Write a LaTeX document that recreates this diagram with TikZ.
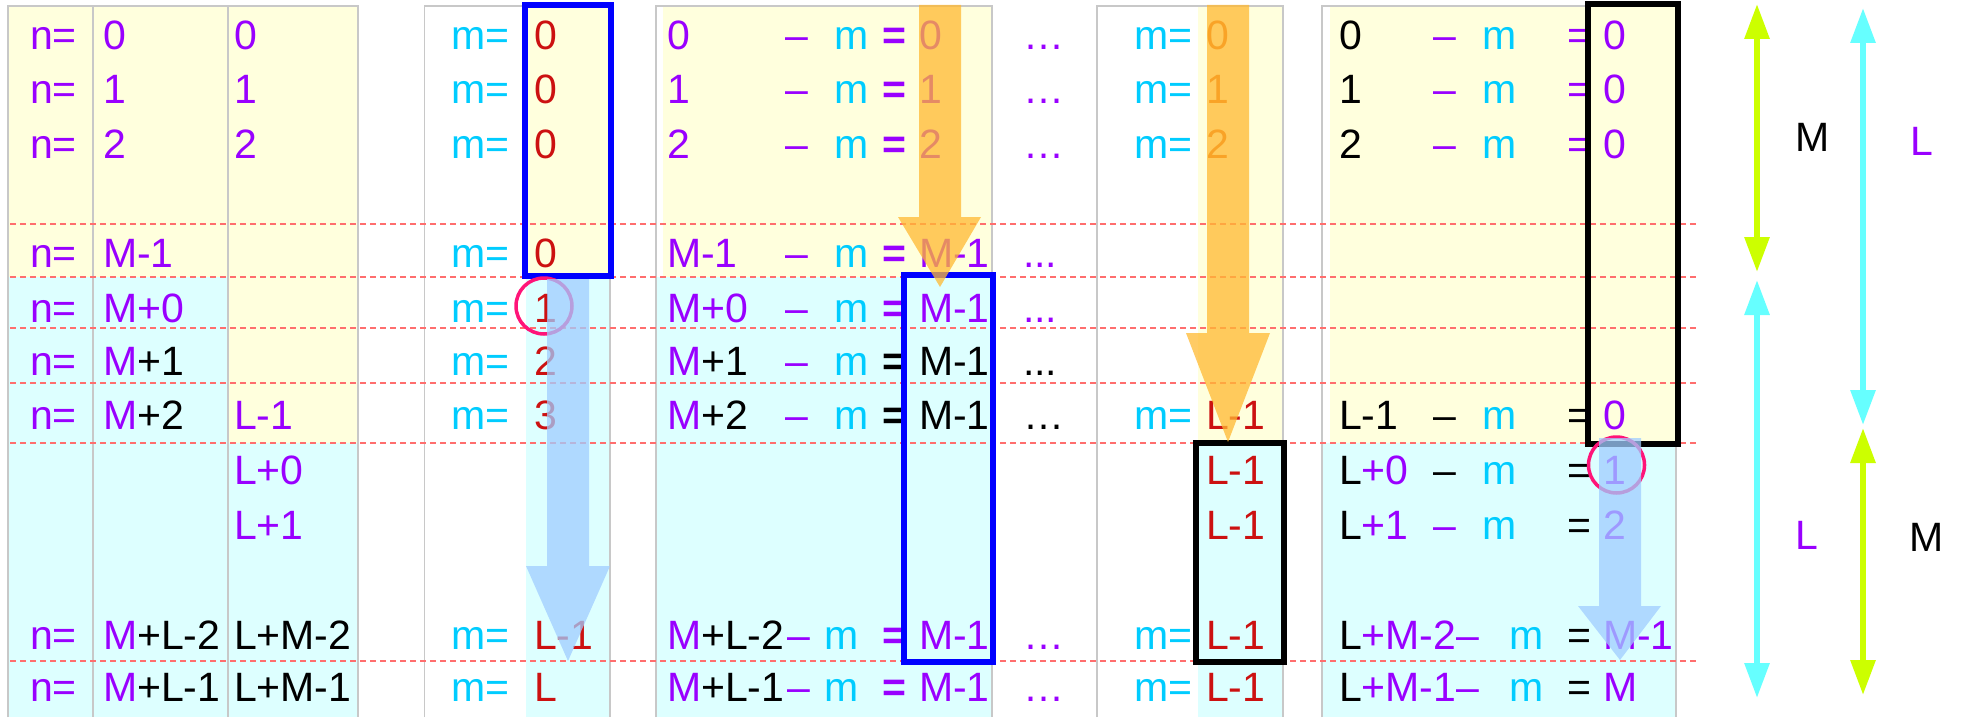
\documentclass[tikz,border=0pt]{standalone}
\usepackage{fontspec}
\setmainfont{Liberation Sans}
\usetikzlibrary{arrows.meta}
\definecolor{pur}{RGB}{153,0,255}
\definecolor{cyn}{RGB}{0,204,255}
\definecolor{dred}{RGB}{204,17,17}
\definecolor{orn}{RGB}{232,100,10}
\definecolor{ylw}{RGB}{255,255,221}
\definecolor{cya}{RGB}{221,255,255}
\definecolor{gridc}{RGB}{200,200,200}
\definecolor{dsh}{RGB}{255,110,110}
\definecolor{pnk}{RGB}{255,20,120}
\definecolor{barrow}{RGB}{160,205,255}
\definecolor{oarrow}{RGB}{255,185,50}
\definecolor{ygn}{RGB}{204,255,0}
\definecolor{lcy}{RGB}{102,255,255}
\newcommand\cPu[1]{\textcolor{pur}{#1}}
\newcommand\cCy[1]{\textcolor{cyn}{#1}}
\newcommand\cRd[1]{\textcolor{dred}{#1}}
\newcommand\cOr[1]{\textcolor{orn}{#1}}
\newcounter{tn}
\newcommand\puttext[3]{\stepcounter{tn}\node[txt] (t\arabic{tn}) at (#1,#2) {#3};}
\begin{document}
\begin{tikzpicture}[x=1pt,y=-1pt,
  txt/.style={anchor=base west,inner sep=0pt,outer sep=0pt,font=\fontsize{41}{49}\selectfont},
  gridln/.style={draw=gridc,line width=1.5pt},
  dashln/.style={draw=dsh,line width=1.5pt,dash pattern=on 6pt off 4pt},
  bluebox/.style={draw=blue,line width=5.5pt},
  blackbox/.style={draw=black,line width=5.5pt},
  ring/.style={draw=pnk,line width=3.5pt},
  barr/.style={fill=barrow,opacity=0.75},
  oarr/.style={fill=oarrow,opacity=0.75},
  dimarr/.style={line width=6pt,{Triangle[length=35pt,width=24pt]}-{Triangle[length=35pt,width=24pt]}}]
\useasboundingbox (0,0) rectangle (1961,717);
% backgrounds
\fill[ylw] (8,6) rectangle (228,277);
\fill[cya] (8,277) rectangle (228,717);
\fill[ylw] (228,6) rectangle (358,443);
\fill[cya] (228,443) rectangle (358,717);
\fill[ylw] (525,6) rectangle (611,276);
\fill[cya] (526,276) rectangle (610,717);
\fill[ylw] (663,6) rectangle (992,277);
\fill[cya] (657,277) rectangle (992,717);
\fill[ylw] (1198,6) rectangle (1283,443);
\fill[cya] (1198,443) rectangle (1283,717);
\fill[ylw] (1330,6) rectangle (1676,443);
\fill[cya] (1322,443) rectangle (1676,717);
% grid lines
\draw[gridln] (8,717) -- (8,6) -- (358,6) -- (358,717);
\draw[gridln] (93,6) -- (93,717);
\draw[gridln] (228,6) -- (228,717);
\draw[gridln] (424.5,717) -- (424.5,6) -- (610,6) -- (610,717);
\draw[gridln] (656,717) -- (656,6) -- (992,6) -- (992,717);
\draw[gridln] (1097,717) -- (1097,6) -- (1283,6) -- (1283,717);
\draw[gridln] (1322,717) -- (1322,6) -- (1676,6) -- (1676,717);
% dashed separators
\foreach \yy in {224,277,328,383,443,661} \draw[dashln] (10,\yy) -- (1697,\yy);
% table 1
\foreach \yy in {49,103,158,267,322,375,429,649,701} {\puttext{30}{\yy}{\cPu{n=}}}
\puttext{103}{49}{\cPu{0}}
\puttext{103}{103}{\cPu{1}}
\puttext{103}{158}{\cPu{2}}
\puttext{103}{267}{\cPu{M-1}}
\puttext{103}{322}{\cPu{M+0}}
\puttext{103}{375}{\cPu{M}+1}
\puttext{103}{429}{\cPu{M}+2}
\puttext{103}{649}{\cPu{M}+L-2}
\puttext{103}{701}{\cPu{M}+L-1}
\puttext{234}{49}{\cPu{0}}
\puttext{234}{103}{\cPu{1}}
\puttext{234}{158}{\cPu{2}}
\puttext{234}{429}{\cPu{L-1}}
\puttext{234}{484}{\cPu{L+0}}
\puttext{234}{539}{\cPu{L+1}}
\puttext{234}{649}{L+M-2}
\puttext{234}{701}{L+M-1}
% table 2
\foreach \yy in {49,103,158,267,322,375,429,649,701} {\puttext{451}{\yy}{\cCy{m=}}}
\puttext{534}{49}{\cRd{0}}
\puttext{534}{103}{\cRd{0}}
\puttext{534}{158}{\cRd{0}}
\puttext{534}{267}{\cRd{0}}
\puttext{534}{322}{\cRd{1}}
\puttext{534}{375}{\cRd{2}}
\puttext{534}{429}{\cRd{3}}
\puttext{534}{649}{\cRd{L-1}}
\puttext{534}{701}{\cRd{L}}
% table 3
\puttext{667}{49}{\cPu{0}}
\puttext{667}{103}{\cPu{1}}
\puttext{667}{158}{\cPu{2}}
\puttext{667}{267}{\cPu{M-1}}
\puttext{667}{322}{\cPu{M+0}}
\puttext{667}{375}{\cPu{M}+1}
\puttext{667}{429}{\cPu{M}+2}
\puttext{667}{649}{\cPu{M}+L-2}
\puttext{667}{701}{\cPu{M}+L-1}
\foreach \yy in {49,103,158,267,322,375,429} {\puttext{785}{\yy}{\cPu{–}}\puttext{834}{\yy}{\cCy{m}}}
\foreach \yy in {649,701} {\puttext{787}{\yy}{\cPu{–}}\puttext{824}{\yy}{\cCy{m}}}
\foreach \yy in {49,103,158,267,322,649,701} {\puttext{882}{\yy}{\cPu{\textbf{=}}}}
\foreach \yy in {375,429} {\puttext{882}{\yy}{\textbf{=}}}
\puttext{919}{49}{\cPu{0}}
\puttext{919}{103}{\cPu{1}}
\puttext{919}{158}{\cPu{2}}
\puttext{919}{267}{\cPu{M-1}}
\puttext{919}{322}{\cPu{M-1}}
\puttext{919}{375}{M-1}
\puttext{919}{429}{M-1}
\puttext{919}{649}{\cPu{M-1}}
\puttext{919}{701}{\cPu{M-1}}
% dots column
\foreach \yy in {49,103,158,649,701} {\puttext{1023}{\yy}{\cPu{…}}}
\foreach \yy in {267,322} {\puttext{1023}{\yy}{\cPu{...}}}
\puttext{1023}{375}{...}
\puttext{1023}{429}{…}
% table 4
\foreach \yy in {49,103,158,429,649,701} {\puttext{1134}{\yy}{\cCy{m=}}}
\puttext{1206}{49}{\cOr{0}}
\puttext{1206}{103}{\cOr{1}}
\puttext{1206}{158}{\cOr{2}}
\foreach \yy in {429,484,539,649,701} {\puttext{1206}{\yy}{\cRd{L-1}}}
% table 5
\puttext{1339}{49}{0}
\puttext{1339}{103}{1}
\puttext{1339}{158}{2}
\puttext{1339}{429}{L-1}
\puttext{1339}{484}{L\cPu{+0}}
\puttext{1339}{539}{L\cPu{+1}}
\puttext{1339}{649}{L\cPu{+M-2–}}
\puttext{1339}{701}{L\cPu{+M-1–}}
\foreach \yy in {49,103,158,539} {\puttext{1433}{\yy}{\cPu{–}}}
\foreach \yy in {429,484} {\puttext{1433}{\yy}{–}}
\foreach \yy in {49,103,158,429,484,539} {\puttext{1482}{\yy}{\cCy{m}}}
\foreach \yy in {649,701} {\puttext{1509}{\yy}{\cCy{m}}}
\foreach \yy in {49,103,158} {\puttext{1567}{\yy}{\cPu{=}}}
\foreach \yy in {429,484,539,649,701} {\puttext{1567}{\yy}{=}}
\puttext{1603}{49}{\cPu{0}}
\puttext{1603}{103}{\cPu{0}}
\puttext{1603}{158}{\cPu{0}}
\puttext{1603}{429}{\cPu{0}}
\puttext{1603}{484}{\cPu{1}}
\puttext{1603}{539}{\cPu{2}}
\puttext{1603}{649}{\cPu{M-1}}
\puttext{1603}{701}{\cPu{M}}
% boxes
\draw[bluebox] (525,5) rectangle (611,276);
\draw[bluebox] (904,275) rectangle (993,662);
\draw[blackbox] (1196,443) rectangle (1284,662);
\draw[blackbox] (1588,4) rectangle (1678,444);
% rings
\draw[ring] (544,306) circle[radius=28pt];
\draw[ring] (1616.5,465) circle[radius=28pt];
% broad arrows
\fill[barr] (547,279) -- (589,279) -- (589,566) -- (610,566) -- (568,661) -- (526,566) -- (547,566) -- cycle;
\fill[barr] (1599,438) -- (1641,438) -- (1641,606) -- (1661,606) -- (1620,660) -- (1578,606) -- (1599,606) -- cycle;
\fill[oarr] (919,5) -- (961,5) -- (961,217) -- (981,217) -- (940,287) -- (898,217) -- (919,217) -- cycle;
\fill[oarr] (1207,5) -- (1249,5) -- (1249,333) -- (1270,333) -- (1228,442) -- (1186,333) -- (1207,333) -- cycle;
% dimension arrows
\coordinate (a1) at (1757,4);
\coordinate (a2) at (1757,272);
\coordinate (a3) at (1757,280);
\coordinate (a4) at (1757,698);
\coordinate (b1) at (1863,8);
\coordinate (b2) at (1863,425);
\coordinate (b3) at (1863,428);
\coordinate (b4) at (1863,695);
\draw[dimarr,ygn] (a1) -- (a2);
\draw[dimarr,lcy] (a3) -- (a4);
\draw[dimarr,lcy] (b1) -- (b2);
\draw[dimarr,ygn] (b3) -- (b4);
\puttext{1795}{151}{M}
\puttext{1910}{155}{\cPu{L}}
\puttext{1795}{549}{\cPu{L}}
\puttext{1909}{551}{M}
\end{tikzpicture}
\end{document}
